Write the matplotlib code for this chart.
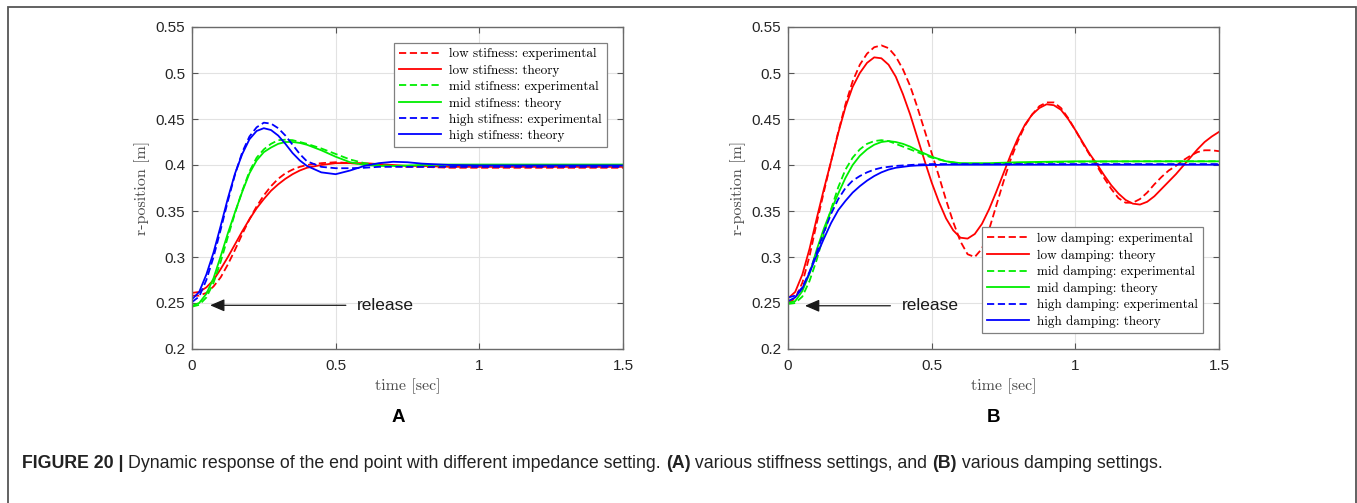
import matplotlib
matplotlib.use("Agg")
import matplotlib.pyplot as plt
from matplotlib.patches import Rectangle

# ---- data ----
# panel A: stiffness
tA = [0, 0.025, 0.05, 0.075, 0.1, 0.125, 0.15, 0.175, 0.2, 0.225, 0.25, 0.275, 0.3,
      0.325, 0.35, 0.375, 0.4, 0.45, 0.5, 0.55, 0.6, 0.65, 0.7, 0.75, 0.8, 0.9, 1.0, 1.25, 1.5]
low_stiff_exp = [0.258, 0.258, 0.261, 0.268, 0.278, 0.292, 0.308, 0.325, 0.341, 0.355, 0.367, 0.377, 0.385,
                 0.391, 0.395, 0.398, 0.400, 0.402, 0.403, 0.402, 0.401, 0.400, 0.399, 0.398, 0.398, 0.397,
                 0.397, 0.397, 0.397]
low_stiff_th = [0.261, 0.262, 0.267, 0.275, 0.287, 0.300, 0.314, 0.328, 0.341, 0.353, 0.363, 0.372, 0.379,
                0.385, 0.390, 0.394, 0.397, 0.400, 0.402, 0.402, 0.402, 0.401, 0.400, 0.399, 0.399, 0.398,
                0.398, 0.398, 0.398]
mid_stiff_exp = [0.246, 0.248, 0.256, 0.272, 0.295, 0.322, 0.348, 0.372, 0.393, 0.408, 0.417, 0.423, 0.427,
                 0.4275, 0.427, 0.425, 0.423, 0.418, 0.412, 0.406, 0.402, 0.400, 0.399, 0.399, 0.3995, 0.3995,
                 0.3995, 0.3995, 0.3995]
mid_stiff_th = [0.247, 0.250, 0.260, 0.277, 0.301, 0.326, 0.349, 0.371, 0.391, 0.405, 0.414, 0.419, 0.423,
                0.425, 0.425, 0.424, 0.422, 0.416, 0.409, 0.403, 0.400, 0.399, 0.399, 0.3995, 0.400, 0.4005,
                0.4005, 0.4005, 0.4005]
high_stiff_exp = [0.251, 0.257, 0.275, 0.300, 0.330, 0.361, 0.390, 0.414, 0.431, 0.441, 0.446, 0.445, 0.440,
                  0.432, 0.422, 0.412, 0.404, 0.398, 0.3965, 0.3965, 0.397, 0.398, 0.398, 0.398, 0.398, 0.398,
                  0.398, 0.398, 0.398]
high_stiff_th = [0.254, 0.262, 0.281, 0.305, 0.334, 0.364, 0.391, 0.412, 0.428, 0.437, 0.440, 0.438, 0.432,
                 0.423, 0.413, 0.405, 0.399, 0.392, 0.390, 0.394, 0.399, 0.402, 0.4035, 0.403, 0.4015, 0.400,
                 0.3995, 0.3995, 0.3995]

# panel B: damping
tB_low = [0, 0.025, 0.05, 0.075, 0.1, 0.125, 0.15, 0.175, 0.2, 0.225, 0.25, 0.275, 0.3, 0.325, 0.35,
          0.375, 0.4, 0.425, 0.45, 0.475, 0.5, 0.525, 0.55, 0.575, 0.6, 0.625, 0.65, 0.675, 0.7, 0.725,
          0.75, 0.775, 0.8, 0.825, 0.85, 0.875, 0.9, 0.925, 0.95, 0.975, 1.0, 1.025, 1.05, 1.075, 1.1,
          1.125, 1.15, 1.175, 1.2, 1.225, 1.25, 1.275, 1.3, 1.325, 1.35, 1.375, 1.4, 1.425, 1.45, 1.475, 1.5]
low_damp_exp = [0.250, 0.255, 0.272, 0.301, 0.337, 0.371, 0.404, 0.436, 0.466, 0.491, 0.509, 0.521, 0.528,
                0.530, 0.527, 0.518, 0.504, 0.486, 0.463, 0.438, 0.413, 0.388, 0.362, 0.338, 0.317, 0.303,
                0.300, 0.309, 0.330, 0.356, 0.382, 0.406, 0.426, 0.443, 0.455, 0.464, 0.468, 0.468, 0.462,
                0.451, 0.438, 0.424, 0.411, 0.399, 0.386, 0.374, 0.364, 0.359, 0.359, 0.363, 0.370, 0.379,
                0.387, 0.394, 0.399, 0.405, 0.410, 0.414, 0.416, 0.416, 0.415]
low_damp_th = [0.255, 0.262, 0.281, 0.309, 0.342, 0.374, 0.404, 0.435, 0.463, 0.485, 0.500, 0.511, 0.517,
               0.516, 0.509, 0.496, 0.477, 0.455, 0.430, 0.405, 0.381, 0.360, 0.342, 0.329, 0.321, 0.320,
               0.325, 0.336, 0.352, 0.371, 0.391, 0.411, 0.429, 0.444, 0.455, 0.462, 0.466, 0.465, 0.460,
               0.450, 0.438, 0.425, 0.412, 0.401, 0.389, 0.378, 0.369, 0.362, 0.358, 0.357, 0.360, 0.366,
               0.374, 0.382, 0.390, 0.399, 0.408, 0.417, 0.425, 0.431, 0.436]
tB = [0, 0.025, 0.05, 0.075, 0.1, 0.125, 0.15, 0.175, 0.2, 0.225, 0.25, 0.275, 0.3, 0.325, 0.35,
      0.375, 0.4, 0.425, 0.45, 0.5, 0.55, 0.6, 0.7, 0.8, 0.9, 1.0, 1.25, 1.5]
mid_damp_exp = [0.249, 0.250, 0.257, 0.274, 0.297, 0.325, 0.352, 0.376, 0.395, 0.408, 0.417, 0.423, 0.426,
                0.427, 0.426, 0.423, 0.420, 0.417, 0.414, 0.408, 0.404, 0.4015, 0.401, 0.402, 0.403, 0.4035,
                0.404, 0.404]
mid_damp_th = [0.250, 0.252, 0.263, 0.282, 0.308, 0.331, 0.351, 0.369, 0.386, 0.400, 0.410, 0.417, 0.422,
               0.425, 0.426, 0.425, 0.423, 0.420, 0.416, 0.409, 0.404, 0.402, 0.402, 0.403, 0.4035, 0.404,
               0.404, 0.404]
high_damp_exp = [0.256, 0.258, 0.267, 0.284, 0.305, 0.327, 0.347, 0.363, 0.375, 0.383, 0.388, 0.392, 0.395,
                 0.397, 0.398, 0.399, 0.3995, 0.400, 0.4005, 0.401, 0.401, 0.401, 0.401, 0.401, 0.401, 0.401,
                 0.401, 0.401]
high_damp_th = [0.252, 0.256, 0.266, 0.283, 0.302, 0.320, 0.337, 0.351, 0.361, 0.370, 0.377, 0.383, 0.388,
                0.392, 0.395, 0.397, 0.398, 0.399, 0.3995, 0.400, 0.4003, 0.4003, 0.4003, 0.4003, 0.4003,
                0.4003, 0.4003, 0.4003]

xticks = [0, 0.5, 1, 1.5]
xtick_labels = ["0", "0.5", "1", "1.5"]
yticks = [0.2, 0.25, 0.3, 0.35, 0.4, 0.45, 0.5, 0.55]
ytick_labels = ["0.2", "0.25", "0.3", "0.35", "0.4", "0.45", "0.5", "0.55"]

caption_pieces = [("FIGURE 20 | ", "bold"),
                  ("Dynamic response of the end point with different impedance setting. ", "normal"),
                  ("(A)", "bold"),
                  (" various stiffness settings, and ", "normal"),
                  ("(B)", "bold"),
                  (" various damping settings.", "normal")]

RED, GREEN, BLUE = "#ff0000", "#00ee00", "#0000ff"
SANS = ["Liberation Sans", "DejaVu Sans"]
SERIF = ["cmr10", "DejaVu Serif"]

fig = plt.figure(figsize=(13.57, 5.03), dpi=100)

# outer frame (left, top, right)
fig.add_artist(Rectangle((7.5 / 1357, -0.2), (1355.5 - 7.5) / 1357, 1.2 - 6.5 / 503,
                         transform=fig.transFigure, fill=False, ec="#555555", lw=1.3))


def setup(ax):
    ax.set_xlim(0, 1.5)
    ax.set_ylim(0.2, 0.55)
    ax.set_xticks(xticks)
    ax.set_xticklabels(xtick_labels, family=SANS, fontsize=11, color="#262626")
    ax.set_yticks(yticks)
    ax.set_yticklabels(ytick_labels, family=SANS, fontsize=11, color="#262626")
    ax.tick_params(direction="in", top=True, right=True, length=4, width=0.8, color="#555555")
    ax.tick_params(axis="x", pad=7)
    ax.tick_params(axis="y", pad=5)
    ax.grid(True, color="#e2e2e2", lw=0.8)
    ax.set_axisbelow(True)
    for s in ax.spines.values():
        s.set_color("#6a6a6a")
        s.set_linewidth(1.0)
    ax.set_xlabel("time [sec]", family=SERIF, fontsize=11.5, color="#4a4a4a", labelpad=4)
    ax.set_ylabel("r-position [m]", family=SERIF, fontsize=11.5, color="#4a4a4a", labelpad=4)


def legend(ax, loc):
    lg = ax.legend(loc=loc, prop={"family": SERIF, "size": 9.5}, handlelength=3.2,
                   handletextpad=0.6, labelspacing=0.3, borderpad=0.4, borderaxespad=1.2,
                   fancybox=False, framealpha=1, edgecolor="#808080")
    lg.get_frame().set_linewidth(0.9)


DASH = (0, (4, 2))
LW = 1.3
ARROW = dict(arrowstyle="-|>,head_length=0.7,head_width=0.3", color="#1a1a1a",
             lw=0.9, shrinkA=6, shrinkB=0)

axA = fig.add_axes([192 / 1357, 1 - 349 / 503, 431 / 1357, 322 / 503])
axA.plot(tA, low_stiff_exp, color=RED, ls=DASH, lw=LW, label="low stifness: experimental")
axA.plot(tA, low_stiff_th, color=RED, lw=LW, label="low stifness: theory")
axA.plot(tA, mid_stiff_exp, color=GREEN, ls=DASH, lw=LW, label="mid stifness: experimental")
axA.plot(tA, mid_stiff_th, color=GREEN, lw=LW, label="mid stifness: theory")
axA.plot(tA, high_stiff_exp, color=BLUE, ls=DASH, lw=LW, label="high stifness: experimental")
axA.plot(tA, high_stiff_th, color=BLUE, lw=LW, label="high stifness: theory")
setup(axA)
legend(axA, "upper right")
axA.annotate("release", xy=(0.063, 0.2475), xytext=(0.574, 0.2475), va="center", ha="left",
             family=SANS, fontsize=12.5, color="#1a1a1a", arrowprops=ARROW)

axB = fig.add_axes([788 / 1357, 1 - 349 / 503, 431 / 1357, 322 / 503])
axB.plot(tB_low, low_damp_exp, color=RED, ls=DASH, lw=LW, label="low damping: experimental")
axB.plot(tB_low, low_damp_th, color=RED, lw=LW, label="low damping: theory")
axB.plot(tB, mid_damp_exp, color=GREEN, ls=DASH, lw=LW, label="mid damping: experimental")
axB.plot(tB, mid_damp_th, color=GREEN, lw=LW, label="mid damping: theory")
axB.plot(tB, high_damp_exp, color=BLUE, ls=DASH, lw=LW, label="high damping: experimental")
axB.plot(tB, high_damp_th, color=BLUE, lw=LW, label="high damping: theory")
setup(axB)
legend(axB, "lower right")
axB.annotate("release", xy=(0.059, 0.247), xytext=(0.395, 0.247), va="center", ha="left",
             family=SANS, fontsize=12.5, color="#1a1a1a", arrowprops=ARROW)

# panel letters
fig.text(398 / 1357, 1 - 417 / 503, "A", ha="center", va="center", family=SANS,
         fontsize=13.5, fontweight="bold")
fig.text(994 / 1357, 1 - 417 / 503, "B", ha="center", va="center", family=SANS,
         fontsize=13.5, fontweight="bold")

# caption, pieces placed one after another
fig.canvas.draw()
r = fig.canvas.get_renderer()
x0 = 22 / 1357
for txt, w in caption_pieces:
    t = fig.text(x0, 1 - 462 / 503, txt, ha="left", va="center_baseline", family=SANS,
                 fontsize=12.8, fontweight=w, color="#222222")
    bb = t.get_window_extent(renderer=r)
    x0 = fig.transFigure.inverted().transform((bb.x1, bb.y0))[0]

fig.savefig("out.png", dpi=100)
